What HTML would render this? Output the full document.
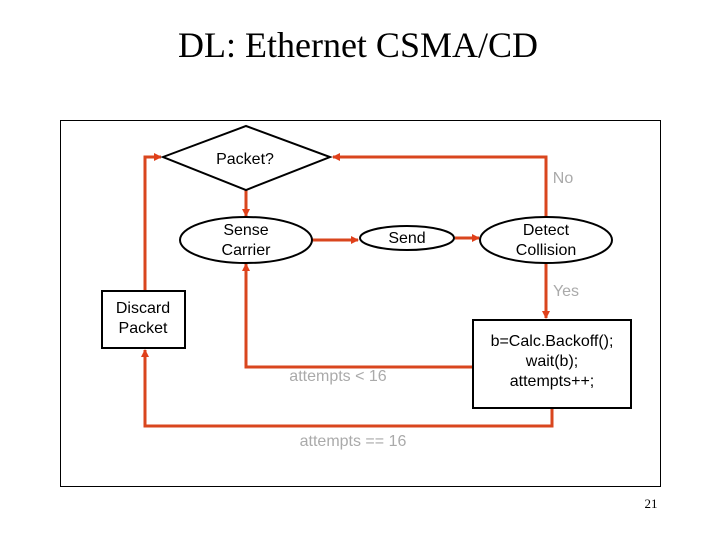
<!DOCTYPE html>
<html><head><style>
body{margin:0;width:720px;height:540px;background:#fff;overflow:hidden}
</style></head><body>
<svg width="720" height="540" xmlns="http://www.w3.org/2000/svg">
<defs><marker id="a" markerWidth="8" markerHeight="8" refX="7" refY="4" orient="auto" markerUnits="userSpaceOnUse"><path d="M0,0 L8,4 L0,8 z" fill="#e0401a"/></marker></defs>
<text x="358" y="57" font-family="Liberation Serif" font-size="36" text-anchor="middle">DL: Ethernet CSMA/CD</text>
<rect x="60.5" y="120.5" width="600" height="366" fill="none" stroke="#000" stroke-width="1"/>
<g fill="none" stroke="#d9461e" stroke-width="3">
<polyline points="145,290 145,157 161,157" marker-end="url(#a)"/>
<polyline points="546,218 546,157 333,157" marker-end="url(#a)"/>
<polyline points="246,190 246,216" marker-end="url(#a)"/>
<polyline points="312,240 358,240" marker-end="url(#a)"/>
<polyline points="455,238 479,238" marker-end="url(#a)"/>
<polyline points="546,262 546,318" marker-end="url(#a)"/>
<polyline points="473,367 246,367 246,264" marker-end="url(#a)"/>
<polyline points="552,408 552,426 145,426 145,350" marker-end="url(#a)"/>
</g>
<g fill="#fff" stroke="#000" stroke-width="2">
<polygon points="163,157 246,126 330,157 246,190"/>
<ellipse cx="246" cy="240" rx="66" ry="23"/>
<ellipse cx="407" cy="238" rx="47" ry="12"/>
<ellipse cx="546" cy="240" rx="66" ry="23"/>
<rect x="102" y="291" width="83" height="57"/>
<rect x="473" y="320" width="158" height="88"/>
</g>
<g font-family="Liberation Sans" font-size="16" text-anchor="middle" fill="#000">
<text x="245" y="164">Packet?</text>
<text x="246" y="235">Sense</text><text x="246" y="255">Carrier</text>
<text x="407" y="243">Send</text>
<text x="546" y="235">Detect</text><text x="546" y="255">Collision</text>
<text x="143" y="313">Discard</text><text x="143" y="333">Packet</text>
<text x="552" y="346">b=Calc.Backoff();</text><text x="552" y="366">wait(b);</text><text x="552" y="386">attempts++;</text>
</g>
<g font-family="Liberation Sans" font-size="16" text-anchor="middle" fill="#aaa">
<text x="563" y="183">No</text>
<text x="566" y="296">Yes</text>
<text x="338" y="381">attempts &lt; 16</text>
<text x="353" y="446">attempts == 16</text>
</g>
<text x="651" y="508" font-family="Liberation Serif" font-size="13" text-anchor="middle">21</text>
</svg>
</body></html>
